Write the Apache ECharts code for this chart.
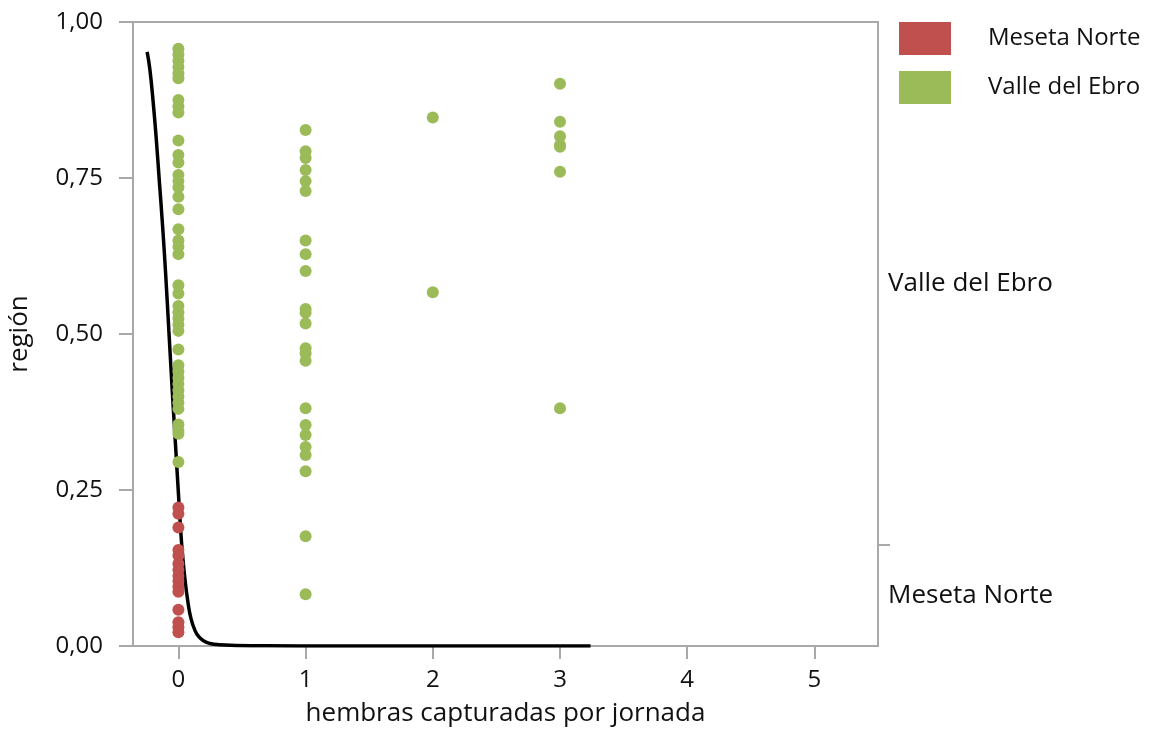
<!DOCTYPE html>
<html>
<head>
<meta charset="utf-8">
<script src="https://cdn.jsdelivr.net/npm/echarts@6/dist/echarts.min.js"></script>
<style>html,body{margin:0;padding:0;background:#fff;}#c{width:1158px;height:733px;}</style>
</head>
<body>
<div id="c"></div>
<script>
// ---- data ----
const xTickLabels = [0, 1, 2, 3, 4, 5];
const seriesNames = ['Meseta Norte', 'Valle del Ebro'];
const mesetaX = [0,0,0,0,0,0,0,0,0,0,0,0,0,0,0];
const mesetaY = [0.222,0.212,0.19,0.154,0.145,0.132,0.122,0.112,0.104,0.095,0.087,0.058,0.038,0.03,0.022];
const valleX = [
  0,0,0,0,0,0,0,0,0,0,0,0,0,0,0,0,0,0,0,0,0,0,0,0,0,0,0,0,0,0,0,0,0,0,0,0,0,0,0,0,0,
  1,1,1,1,1,1,1,1,1,1,1,1,1,1,1,1,1,1,1,1,1,1,1,
  2,2,
  3,3,3,3,3,3,3
];
const valleY = [
  0.957,0.948,0.938,0.928,0.918,0.91,0.875,0.865,0.855,0.81,0.787,0.775,0.755,0.745,0.735,0.72,0.70,0.668,0.65,0.64,0.628,0.578,0.565,0.545,0.535,0.525,0.515,0.505,0.475,0.45,0.44,0.43,0.42,0.41,0.40,0.39,0.38,0.355,0.345,0.34,0.295,
  0.827,0.793,0.782,0.763,0.745,0.729,0.650,0.628,0.601,0.540,0.534,0.517,0.477,0.469,0.457,0.381,0.354,0.338,0.319,0.306,0.280,0.176,0.083,
  0.847,0.567,
  0.901,0.840,0.817,0.803,0.800,0.760,0.381
];
const curveX = [-0.246,-0.225,-0.2,-0.175,-0.15,-0.125,-0.1,-0.075,-0.05,-0.025,0.0,0.025,0.05,0.075,0.1,0.13,0.16,0.2,0.25,0.32,0.45,0.7,1.2,3.24];
const curveY = [0.952,0.925,0.875,0.815,0.745,0.675,0.595,0.505,0.415,0.33,0.245,0.165,0.11,0.07,0.043,0.025,0.015,0.008,0.004,0.002,0.001,0.0003,0.0,0.0];
const regionLabels = ['Meseta Norte', 'Valle del Ebro'];
const regionBoundary = 0.162;

const zip = (xs, ys) => xs.map((x, i) => [x, ys[i]]);
const axisGray = '#a9a9a9';
const font = '"Open Sans", "Noto Sans", sans-serif';
const fs = 24;
const nameFs = 26;
const regionMid = [regionBoundary / 2, (regionBoundary + 1) / 2];

const chart = echarts.init(document.getElementById('c'), null, {renderer: 'canvas'});
chart.setOption({
  animation: false,
  textStyle: {fontFamily: font},
  grid: {left: 133, right: 280, top: 22, bottom: 87, outerBoundsMode: 'none', containLabel: false,
    show: true, borderColor: axisGray, borderWidth: 2, backgroundColor: 'transparent'},
  legend: {
    data: seriesNames.map(n => ({name: n, icon: 'rect'})),
    orient: 'vertical', left: 894, top: 17,
    itemWidth: 52, itemHeight: 33, itemGap: 16,
    textStyle: {fontSize: fs, color: '#111', fontFamily: font, padding: [4, 0, 0, 32]}
  },
  xAxis: {
    type: 'value', min: -0.357, max: 5.5,
    name: 'hembras capturadas por jornada', nameLocation: 'middle', nameGap: 55,
    nameTextStyle: {fontSize: nameFs, color: '#111', fontFamily: font},
    axisLine: {show: true, onZero: false, lineStyle: {color: axisGray, width: 2}},
    axisTick: {show: true, inside: false, length: 13, lineStyle: {color: axisGray, width: 2}, customValues: xTickLabels},
    axisLabel: {fontSize: fs, color: '#111', margin: 22, fontFamily: font, customValues: xTickLabels},
    splitLine: {show: false}
  },
  yAxis: [{
    type: 'value', min: 0, max: 1, interval: 0.25, position: 'left',
    name: 'región', nameLocation: 'middle', nameGap: 100, nameRotate: 90,
    nameTextStyle: {fontSize: nameFs, color: '#111', fontFamily: font},
    axisLine: {show: true, onZero: false, lineStyle: {color: axisGray, width: 2}},
    axisTick: {show: true, inside: false, length: 14, lineStyle: {color: axisGray, width: 2}},
    axisLabel: {fontSize: fs, color: '#111', margin: 30, fontFamily: font,
      formatter: v => v.toFixed(2).replace('.', ',')},
    splitLine: {show: false}
  }, {
    type: 'value', min: 0, max: 1, position: 'right',
    axisLine: {show: true, onZero: false, lineStyle: {color: axisGray, width: 2}},
    axisTick: {show: true, inside: false, length: 12, lineStyle: {color: axisGray, width: 2}, customValues: [regionBoundary]},
    axisLabel: {fontSize: 26, color: '#111', margin: 10, fontFamily: font, customValues: regionMid,
      formatter: v => (v < regionBoundary ? regionLabels[0] : regionLabels[1])},
    splitLine: {show: false}
  }],
  series: [
    {name: 'curve', type: 'line', data: zip(curveX, curveY), smooth: 0.5, showSymbol: false, symbol: 'none',
      lineStyle: {color: '#000', width: 3.5}, z: 3, silent: true},
    {name: seriesNames[0], type: 'scatter', data: zip(mesetaX, mesetaY), symbolSize: 12,
      itemStyle: {color: '#C0504D', opacity: 1}, z: 4},
    {name: seriesNames[1], type: 'scatter', data: zip(valleX, valleY), symbolSize: 12,
      itemStyle: {color: '#9BBB59', opacity: 1}, z: 4}
  ]
});
</script>
</body>
</html>
